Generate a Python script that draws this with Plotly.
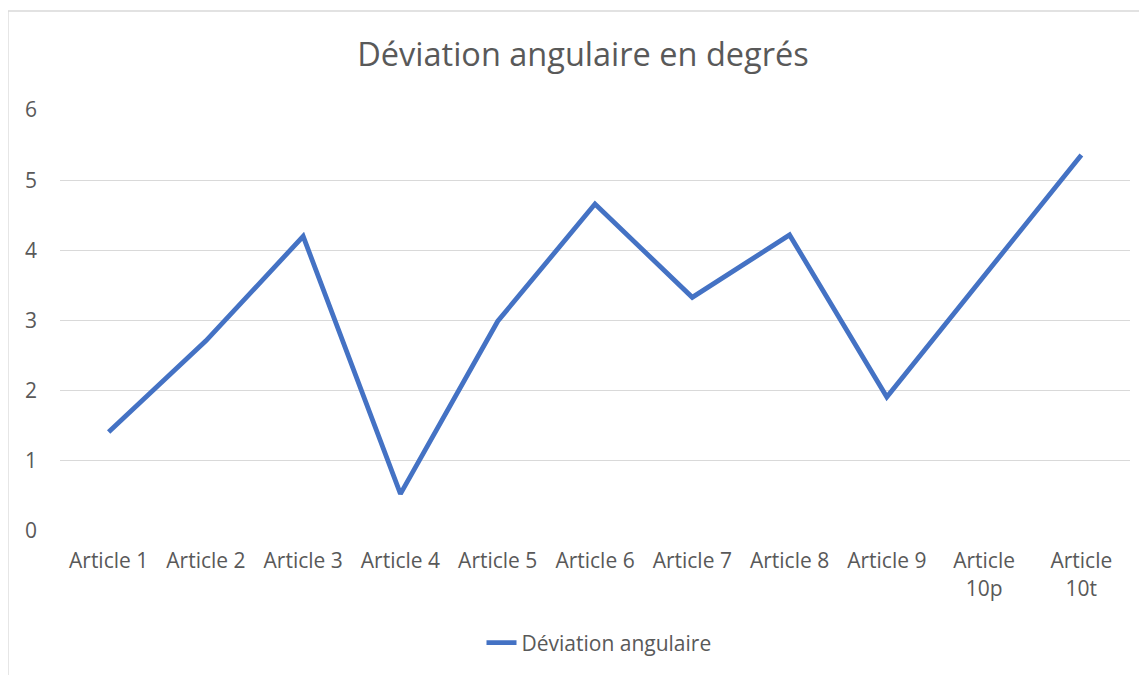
import plotly.graph_objects as go

categories = ["Article 1", "Article 2", "Article 3", "Article 4", "Article 5", "Article 6",
              "Article 7", "Article 8", "Article 9", "Article<br>10p", "Article<br>10t"]
values = [1.41, 2.71, 4.20, 0.53, 2.99, 4.66, 3.33, 4.22, 1.91, 3.63, 5.36]
series_name = "Déviation angulaire"
title_text = "Déviation angulaire en degrés"

# page body has an 8px default margin; work in figure coordinates (screen - 8)
OFF = 8
W, H = 1147 - OFF, 675 - OFF
L, R, T, B = 60 - OFF, 17, 110 - OFF, 144
pw, ph = W - L - R, H - T - B

font_family = "'Open Sans', sans-serif"
gray = "#595959"

fig = go.Figure()
fig.add_trace(go.Scatter(x=categories, y=values, mode="lines", name=series_name,
                         line=dict(color="#4472C4", width=4.8)))

def sx(px):
    return (px - OFF - L) / pw

def sy(py):
    return (H - B - (py - OFF)) / ph

fig.update_layout(
    width=W, height=H,
    margin=dict(l=L, r=R, t=T, b=B),
    paper_bgcolor="white", plot_bgcolor="white",
    font=dict(family=font_family, color=gray, size=21),
    title=dict(text=title_text, x=(583 - OFF) / W, xanchor="center", xref="container",
               y=1 - (55 - OFF) / H, yanchor="middle", yref="container",
               font=dict(size=32.5, color=gray, family=font_family)),
    showlegend=True,
    legend=dict(orientation="h", xref="container", yref="container",
                x=(599 - OFF) / W, xanchor="center", y=1 - (643 - OFF) / H, yanchor="middle",
                font=dict(size=21, color=gray)),
    xaxis=dict(type="category", range=[-0.5, len(categories) - 0.5],
               showgrid=False, showline=False, zeroline=False,
               ticks="outside", ticklen=11, tickcolor="rgba(0,0,0,0)",
               tickfont=dict(size=21, color=gray)),
    yaxis=dict(range=[0, 6], dtick=1, showgrid=True, gridcolor="#d9d9d9", gridwidth=1.3,
               zeroline=False, showline=False, ticks="", ticklabelstandoff=22,
               tickfont=dict(size=21, color=gray)),
    shapes=[dict(type="rect", xref="paper", yref="paper", layer="below",
                 x0=sx(8), x1=sx(1170),
                 y0=sy(700), y1=sy(11),
                 line=dict(color="#d9d9d9", width=1.3), fillcolor="rgba(0,0,0,0)")],
)

fig.write_html("out.html")
